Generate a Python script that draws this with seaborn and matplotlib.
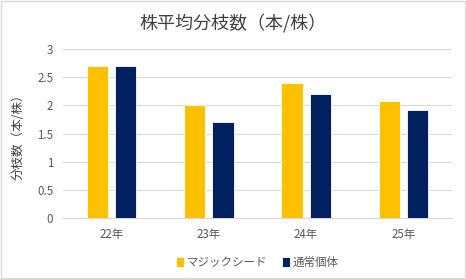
import pandas as pd
import seaborn as sns
import matplotlib.pyplot as plt
from matplotlib.patches import Rectangle

years = ['22年', '23年', '24年', '25年']
magic_seed = [2.7, 2.0, 2.4, 2.07]
normal = [2.7, 1.7, 2.2, 1.92]
series_names = ['マジックシード', '通常個体']

df = pd.DataFrame({
    'year': years * 2,
    'value': magic_seed + normal,
    'series': [series_names[0]] * 4 + [series_names[1]] * 4,
})

sns.set_style('white')
plt.rcParams['font.family'] = ['Noto Sans CJK JP', 'DejaVu Sans']

text_gray = '#595959'
fig = plt.figure(figsize=(4.66, 2.79), dpi=100)
ax = fig.add_axes([0.135, 0.219, 0.835, 0.605])

sns.barplot(data=df, x='year', y='value', hue='series', order=years,
            hue_order=series_names, palette=['#FFC000', '#002060'],
            saturation=1, width=0.58, gap=0.25, edgecolor='white',
            linewidth=0.6, ax=ax, zorder=3)

ax.set_xlim(-0.5, 3.5)
ax.set_ylim(0, 3)
ax.set_yticks([0, 0.5, 1, 1.5, 2, 2.5, 3])
ax.set_yticklabels(['0', '0.5', '1', '1.5', '2', '2.5', '3'])
ax.yaxis.grid(True, color='#D9D9D9', linewidth=0.8, zorder=0)
ax.set_axisbelow(True)
for s in ['top', 'right', 'left']:
    ax.spines[s].set_visible(False)
ax.spines['bottom'].set_color('#D9D9D9')
ax.tick_params(axis='both', length=0, labelsize=8.3, labelcolor=text_gray, pad=7)
ax.set_xlabel('')
ax.set_ylabel('分枝数（本/株）', fontsize=9, color='#404040', labelpad=9)

fig.suptitle('株平均分枝数（本/株）', x=0.5, y=0.95, fontsize=13, color='#404040')

ax.legend(loc='upper center', bbox_to_anchor=(0.5, -0.165), ncol=2, frameon=False,
          fontsize=8.3, labelcolor=text_gray, handlelength=0.7, handleheight=0.9,
          handletextpad=0.2, columnspacing=1.3)

fig.patches.append(Rectangle((0.002, 0.004), 0.995, 0.991, transform=fig.transFigure,
                             fill=False, edgecolor='#D9D9D9', linewidth=1))

fig.savefig('out.png', dpi=100)
